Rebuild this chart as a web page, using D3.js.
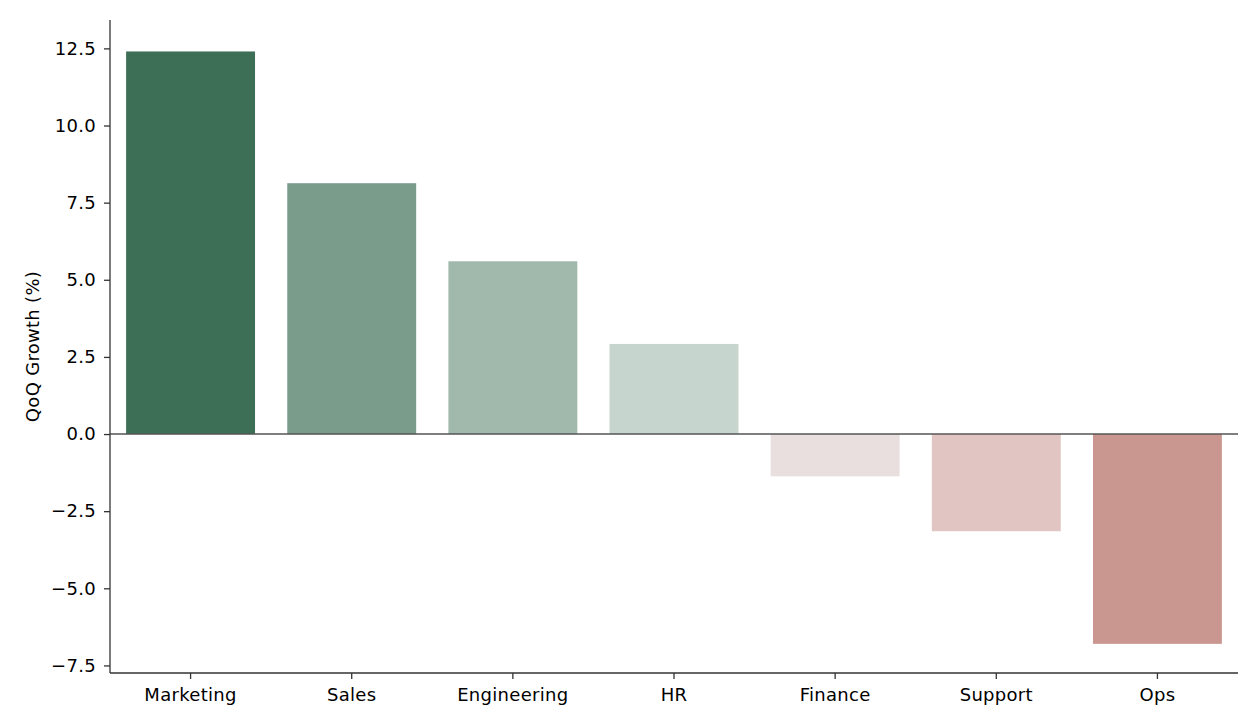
<!DOCTYPE html>
<html><head><meta charset="utf-8">
<script src="https://cdn.jsdelivr.net/npm/d3@7"></script>
<style>body{margin:0;background:#fff}svg{display:block}text{font-family:"DejaVu Sans",sans-serif}</style>
</head><body><svg id="c" width="1260" height="728"></svg>
<script>
const categories = ["Marketing","Sales","Engineering","HR","Finance","Support","Ops"];
const values = [12.4, 8.13, 5.6, 2.92, -1.37, -3.15, -6.8];
const colors = ["#3d6e56","#7a9c8b","#a1b8ac","#c6d5ce","#e8dfde","#e1c5c2","#c9978f"];
const yTicks = [-7.5,-5.0,-2.5,0,2.5,5.0,7.5,10.0,12.5];
const yLabel = "QoQ Growth (%)";

const svg = d3.select("#c");
const L=110, R=1238, T=20, B=673;
const x = d3.scaleBand().domain(categories).range([L,R]).paddingInner(0.2).paddingOuter(0.1);
const y = d3.scaleLinear().domain([-7.745, 13.42]).range([B,T]);

svg.selectAll("rect.bar").data(categories).enter().append("rect")
  .attr("x", d=>x(d)).attr("width", x.bandwidth())
  .attr("y", (d,i)=>y(Math.max(0,values[i])))
  .attr("height", (d,i)=>Math.abs(y(values[i])-y(0)))
  .attr("fill", (d,i)=>colors[i]);

svg.append("line").attr("x1",L).attr("x2",R).attr("y1",y(0)).attr("y2",y(0))
  .attr("stroke","#555").attr("stroke-width",1.5);

const fmt = d => d3.format(".1f")(d).replace("-","\u2212");
const ya = svg.append("g").attr("transform",`translate(${L},0)`)
  .call(d3.axisLeft(y).tickValues(yTicks).tickFormat(fmt).tickSize(6).tickPadding(8));
const xa = svg.append("g").attr("transform",`translate(0,${B})`)
  .call(d3.axisBottom(x).tickSize(6).tickPadding(9));
[ya,xa].forEach(g=>{
  g.select(".domain").attr("stroke","#333").attr("stroke-width",1.3);
  g.selectAll(".tick line").attr("stroke","#333").attr("stroke-width",1.3);
  g.selectAll(".tick text").attr("fill","#000").style("font-size","18px").style("letter-spacing","0.3px").style("font-family","DejaVu Sans");
});
ya.select(".domain").attr("d",`M0,${T}V${B}`);
xa.select(".domain").attr("d",`M${L},0H${R}`);

svg.append("text").attr("transform",`translate(39,${(T+B)/2}) rotate(-90)`)
  .attr("text-anchor","middle").style("font-size","18px").style("letter-spacing","0.3px").attr("fill","#000").text(yLabel);
</script></body></html>
